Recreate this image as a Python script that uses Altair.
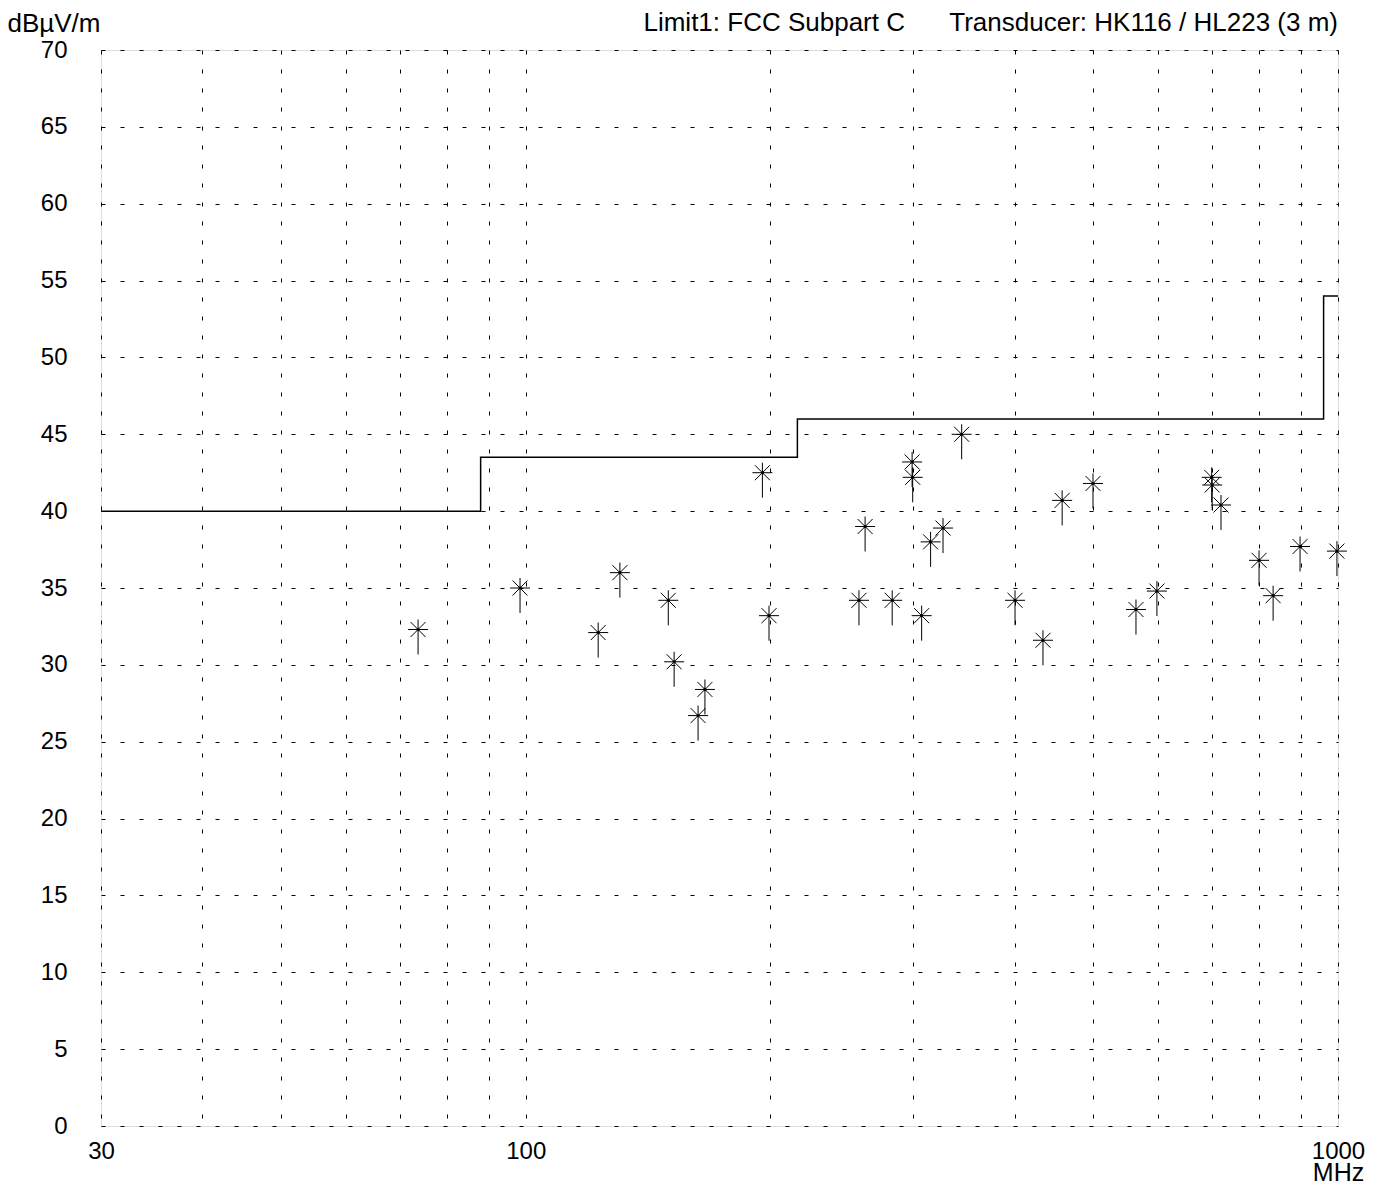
import altair as alt
import pandas as pd

# ---- data ----
freq_mhz = [73.7, 98.4, 122.8, 130.6, 149.8, 152.3, 163.0, 166.2, 195.6, 199.3,
            257.2, 261.7, 282.6, 299.0, 299.5, 307.2, 315.1, 326.4, 344.1, 400.3,
            433.3, 457.5, 499.3, 564.0, 598.5, 699.0, 700.0, 717.7, 799.5, 832.0,
            898.0, 997.0]
level_dbuv = [32.3, 35.0, 32.1, 36.0, 34.2, 30.2, 26.7, 28.4, 42.5, 33.2,
              34.2, 39.0, 34.2, 43.2, 42.2, 33.2, 38.0, 38.9, 45.0, 34.2,
              31.6, 40.7, 41.8, 33.6, 34.8, 42.2, 41.7, 40.4, 36.8, 34.5,
              37.7, 37.4]

limit_freq = [30, 88, 216, 960, 1000]
limit_level = [40, 43.5, 46, 54, 54]

x_grid_values = [30, 40, 50, 60, 70, 80, 90, 100, 200, 300, 400, 500, 600,
                 700, 800, 900, 1000]
x_label_values = [30, 100, 1000]
y_values = list(range(0, 75, 5))

y_title = "dBµV/m"
x_title = "MHz"
header_limit = "Limit1: FCC Subpart C"
header_transducer = "Transducer: HK116 / HL223 (3 m)"

FONT = "Liberation Sans"
W, H = 1237, 1076

pts = pd.DataFrame({"freq": freq_mhz, "level": level_dbuv})
lim = pd.DataFrame({"freq": limit_freq, "level": limit_level})

xscale = alt.Scale(type="log", domain=[30, 1000], nice=False)
yscale = alt.Scale(domain=[0, 70], nice=False, zero=False)

label_test = " || ".join(f"datum.value == {v}" for v in x_label_values)

xaxis = alt.Axis(
    values=x_grid_values,
    labelExpr=f"({label_test}) ? format(datum.value, 'd') : ''",
    grid=True, gridColor="black", gridDash=[4, 15], gridWidth=1,
    domain=False, ticks=False, tickSize=0,
    labelFont=FONT, labelFontSize=24, labelColor="black",
    labelPadding=13, labelBaseline="top", labelFlush=False, labelOverlap=False,
    title=x_title, titleFont=FONT, titleFontSize=25, titleFontWeight="normal",
    titleColor="black", titleAngle=0, titleAlign="center",
    titleBaseline="alphabetic", titleX=W, titleY=54,
)
yaxis = alt.Axis(
    values=y_values,
    grid=True, gridColor="black", gridDash=[4, 15], gridWidth=1,
    domain=False, ticks=False, tickSize=0,
    labelFont=FONT, labelFontSize=24, labelColor="black", labelPadding=34,
    labelOverlap=False, labelFlush=False,
    title=y_title, titleFont=FONT, titleFontSize=26, titleFontWeight="normal",
    titleColor="black", titleAngle=0, titleAlign="left",
    titleBaseline="alphabetic", titleX=-94, titleY=-19,
)

ASTERISK = ("M-1,0L1,0M0,-1L0,2.5"
            "M-0.75,-0.75L0.75,0.75M-0.75,0.75L0.75,-0.75")

x_enc = alt.X("freq:Q", scale=xscale, axis=xaxis)
y_enc = alt.Y("level:Q", scale=yscale, axis=yaxis)

limit_line = alt.Chart(lim).mark_line(
    interpolate="step-after", color="black", strokeWidth=1.5
).encode(x=x_enc, y=y_enc)

stars = alt.Chart(pts).mark_point(
    shape=ASTERISK, size=400, filled=False, color="black",
    strokeWidth=1, opacity=1
).encode(x=alt.X("freq:Q", scale=xscale), y=alt.Y("level:Q", scale=yscale))

dots = alt.Chart(pts).mark_point(
    shape="circle", size=10, filled=True, color="black", opacity=1
).encode(x=alt.X("freq:Q", scale=xscale), y=alt.Y("level:Q", scale=yscale))

hdr = pd.DataFrame({"t": [header_limit, header_transducer]})
head1 = alt.Chart(hdr).transform_filter(f"datum.t == '{header_limit}'").mark_text(
    align="right", baseline="alphabetic", font=FONT, fontSize=26, color="black"
).encode(text="t:N", x=alt.value(804), y=alt.value(-19))
head2 = alt.Chart(hdr).transform_filter(f"datum.t == '{header_transducer}'").mark_text(
    align="right", baseline="alphabetic", font=FONT, fontSize=26, color="black"
).encode(text="t:N", x=alt.value(W), y=alt.value(-19))

chart = alt.layer(limit_line, stars, dots, head1, head2).properties(
    width=W, height=H,
    autosize=alt.AutoSizeParams(type="none"),
    padding={"left": 93, "top": 42, "right": 38, "bottom": 60},
).configure_view(stroke="black", strokeWidth=1.2).configure(background="white")

chart.save("out.html", embed_options={"renderer": "svg", "actions": False})
